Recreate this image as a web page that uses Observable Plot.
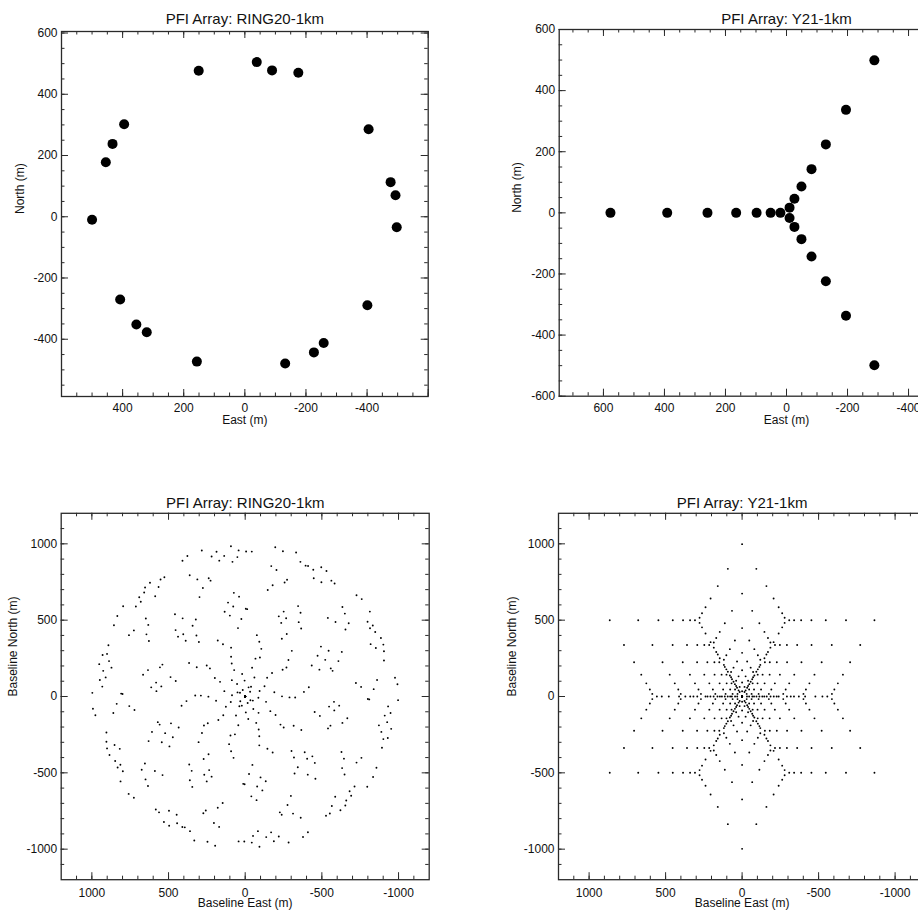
<!DOCTYPE html>
<html><head><meta charset="utf-8">
<script src="https://cdn.jsdelivr.net/npm/d3@7"></script>
<script src="https://cdn.jsdelivr.net/npm/@observablehq/plot@0.6"></script>
<style>
html,body{margin:0;padding:0;background:#fff;overflow:hidden;}
#page{position:relative;width:918px;height:910px;overflow:hidden;background:#fff;}
.panel{position:absolute;}
.panel svg{max-width:none !important;display:block;}
</style></head><body><div id="page"></div>
<script>
// ---- Antenna positions (metres) ----
const ringEast  = [151, -39, -89, -175, 395, 433, 455, 500, -405, -477, -493, -497, 408, 355, 321, 157, -132, -226, -258, -401];
const ringNorth = [477, 505, 478, 470, 302, 238, 178, -10, 286, 113, 70, -34, -270, -352, -377, -473, -479, -443, -412, -289];

const y21East  = [577, 391, 259, 165, 98, 52, 20,
                  -10, -26, -49, -82, -129, -195, -288,
                  -10, -26, -49, -82, -129, -195, -288];
const y21North = [0, 0, 0, 0, 0, 0, 0,
                  17, 46, 86, 143, 224, 337, 499,
                  -17, -46, -86, -143, -224, -337, -499];

// ---- Titles and tick labels ----
const titles = ["PFI Array: RING20-1km", "PFI Array: Y21-1km"];
const posXLabelsRing = [400, 200, 0, -200, -400];
const posYLabelsRing = [600, 400, 200, 0, -200, -400];
const posXLabelsY = [600, 400, 200, 0, -200, -400, -600];
const posYLabelsY = [600, 400, 200, 0, -200, -400, -600];
const baseLabels = [1000, 500, 0, -500, -1000];

const toPoints = (E, N) => E.map((e, i) => ({e, n: N[i]}));
// baselines: pairwise differences of antenna positions
function baselines(E, N) {
  const out = [];
  for (let i = 0; i < E.length; i++)
    for (let j = 0; j < E.length; j++)
      out.push({e: E[i] - E[j], n: N[i] - N[j]});
  return out;
}

const FONT = "'Liberation Sans', Arial, Helvetica, sans-serif";
const LINE = "#2a2a2a";
const fmt = d => String(d);

function panel(o) {
  const W = o.width - o.ml - o.mr, H = o.height - o.mt - o.mb;
  const chart = Plot.plot({
    width: o.width, height: o.height,
    marginLeft: o.ml, marginRight: o.mr, marginTop: o.mt, marginBottom: o.mb,
    style: {fontFamily: FONT, fontSize: "12px", color: "#111", background: "transparent"},
    x: {domain: o.xDomain, axis: null},
    y: {domain: o.yDomain, axis: null},
    marks: [
      // minor ticks (inward, all four sides)
      Plot.tickX(o.xMinor, {x: d => d, insetTop: H - 3.5, stroke: LINE}),
      Plot.tickX(o.xMinor, {x: d => d, insetBottom: H - 3.5, stroke: LINE}),
      Plot.tickY(o.yMinor, {y: d => d, insetRight: W - 3.5, stroke: LINE}),
      Plot.tickY(o.yMinor, {y: d => d, insetLeft: W - 3.5, stroke: LINE}),
      // major ticks
      Plot.tickX(o.xMajor, {x: d => d, insetTop: H - 7, stroke: LINE}),
      Plot.tickX(o.xMajor, {x: d => d, insetBottom: H - 7, stroke: LINE}),
      Plot.tickY(o.yMajor, {y: d => d, insetRight: W - 7, stroke: LINE}),
      Plot.tickY(o.yMajor, {y: d => d, insetLeft: W - 7, stroke: LINE}),
      Plot.frame({stroke: LINE, strokeWidth: 1.3}),
      Plot.axisX(o.xLabels, {anchor: "bottom", tickSize: 0, tickPadding: o.xPad, label: null, fill: "#111", tickFormat: fmt}),
      Plot.axisY(o.yLabels, {anchor: "left", tickSize: 0, tickPadding: 4, label: null, fill: "#111", tickFormat: fmt}),
      Plot.text([o.xTitle], {text: d => d, frameAnchor: "bottom", lineAnchor: "bottom", dy: 27.5, fill: "#111"}),
      Plot.text([o.yTitle], {text: d => d, frameAnchor: "left", lineAnchor: "bottom", rotate: -90, dx: -o.yTitleGap, fill: "#111"}),
      Plot.text([o.title], {text: d => d, frameAnchor: "top", lineAnchor: "bottom", dy: -o.titleGap, fontSize: 15, fill: "#111"}),
      Plot.dot(o.data, {x: "e", y: "n", r: o.r, fill: "black"})
    ]
  });
  const div = document.createElement("div");
  div.className = "panel";
  div.style.left = o.left + "px";
  div.style.top = o.top + "px";
  div.appendChild(chart);
  document.getElementById("page").appendChild(div);
}

// Top-left: RING20 positions
panel({
  left: 0, top: 0, width: 459, height: 455, ml: 61, mr: 31.3, mt: 31, mb: 59,
  xDomain: [600, -600], yDomain: [-587, 605],
  xMajor: d3.range(-600, 601, 200), xMinor: d3.range(-600, 601, 50),
  yMajor: d3.range(-400, 601, 200), yMinor: d3.range(-550, 601, 50),
  xLabels: posXLabelsRing, yLabels: posYLabelsRing, xPad: 7,
  xTitle: "East (m)", yTitle: "North (m)", yTitleGap: 37.4,
  title: titles[0], titleGap: 7.7,
  data: toPoints(ringEast, ringNorth), r: 5
});

// Top-right: Y21 positions (frame extends beyond window)
panel({
  left: 459, top: 0, width: 600, height: 455, ml: 99.7, mr: 45.7, mt: 29, mb: 59.3,
  xDomain: [745, -745], yDomain: [-600, 600],
  xMajor: d3.range(-600, 601, 200), xMinor: d3.range(-700, 701, 50),
  yMajor: d3.range(-600, 601, 200), yMinor: d3.range(-600, 601, 50),
  xLabels: posXLabelsY, yLabels: posYLabelsY, xPad: 7,
  xTitle: "East (m)", yTitle: "North (m)", yTitleGap: 37.7,
  title: titles[1], titleGap: 5.7,
  data: toPoints(y21East, y21North), r: 5
});

// Bottom-left: RING20 baselines
panel({
  left: 0, top: 455, width: 459, height: 455, ml: 60.7, mr: 30.3, mt: 57.8, mb: 30.8,
  xDomain: [1200, -1200], yDomain: [-1200, 1200],
  xMajor: d3.range(-1000, 1001, 500), xMinor: d3.range(-1100, 1101, 100),
  yMajor: d3.range(-1000, 1001, 500), yMinor: d3.range(-1100, 1101, 100),
  xLabels: baseLabels, yLabels: baseLabels, xPad: 8.3,
  xTitle: "Baseline East (m)", yTitle: "Baseline North (m)", yTitleGap: 43.8,
  title: titles[0], titleGap: 5.5,
  data: baselines(ringEast, ringNorth), r: 0.95
});

// Bottom-right: Y21 baselines
panel({
  left: 459, top: 455, width: 600, height: 455, ml: 99, mr: 133.8, mt: 57.8, mb: 30.8,
  xDomain: [1200, -1200], yDomain: [-1200, 1200],
  xMajor: d3.range(-1000, 1001, 500), xMinor: d3.range(-1100, 1101, 100),
  yMajor: d3.range(-1000, 1001, 500), yMinor: d3.range(-1100, 1101, 100),
  xLabels: baseLabels, yLabels: baseLabels, xPad: 8.3,
  xTitle: "Baseline East (m)", yTitle: "Baseline North (m)", yTitleGap: 42.7,
  title: titles[1], titleGap: 5,
  data: baselines(y21East, y21North), r: 0.95
});
</script>
</body></html>
